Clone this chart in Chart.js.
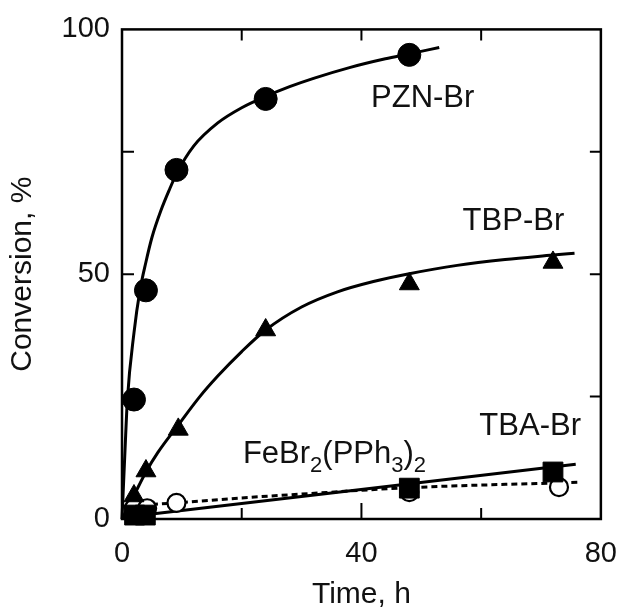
<!DOCTYPE html>
<html>
<head>
<meta charset="utf-8">
<script src="https://cdn.jsdelivr.net/npm/chart.js@4.4.0/dist/chart.umd.min.js"></script>
<style>
  body { margin: 0; background: #fff; }
  #wrap { width: 635px; height: 607px; }
</style>
</head>
<body>
<div id="wrap"><canvas id="conv" width="635" height="607"></canvas></div>
<script>
// measured points (time in h, conversion in %)
const pznTime = [2, 4, 9.1, 24, 48];
const pznConv = [24.4, 46.7, 71.3, 85.8, 94.8];
const tbpTime = [2, 4, 9.4, 24, 48, 72];
const tbpConv = [4.7, 9.8, 18.3, 38.6, 48, 52.4];
const tbaTime = [2.1, 3.9, 48, 72];
const tbaConv = [0.8, 0.8, 6.3, 9.6];
const feTime = [2, 4.2, 9.1, 48, 73];
const feConv = [2.2, 2.2, 3.3, 5.5, 6.5];

// fitted curves
const pznFitT = [0, 0.5, 0.9, 2, 3, 4, 5, 6.5, 8, 9.1, 12, 16, 20, 24, 28, 32, 38, 44, 48, 53];
const pznFitC = [0, 14, 24.4, 38, 46.7, 52.5, 57.5, 63, 67.5, 70.5, 76.2, 80.9, 84, 86.3, 88.3, 90, 92.2, 94, 95, 96.3];
const tbpFitT = [0, 2, 4, 6, 9.4, 13, 16, 20, 24, 30, 36, 42, 48, 56, 64, 72, 75.6];
const tbpFitC = [0, 4.8, 9.6, 13.6, 19.2, 25, 29.2, 34.2, 38.6, 43.3, 46.4, 48.5, 50.1, 51.8, 53, 53.9, 54.3];
const tbaFitT = [0, 75.8];
const tbaFitC = [0.3, 11.2];
const feFitT = [0, 9, 20, 30, 48, 76.4];
const feFitC = [2.6, 3.3, 4.3, 5.1, 6.4, 7.5];

const xTickMarks = [20, 40, 60];
const yTickMarks = [25, 50, 75];

const FONT = "'Liberation Sans', Arial, sans-serif";

const pts = (xs, ys) => xs.map((v, i) => ({x: v, y: ys[i]}));

function fitLine(xs, ys, dash) {
  return {
    data: pts(xs, ys),
    showLine: true,
    borderColor: '#000',
    borderWidth: 3,
    borderDash: dash || [],
    pointRadius: 0,
    cubicInterpolationMode: 'monotone',
    order: 10
  };
}

function marks(xs, ys, style, r, filled, order) {
  return {
    data: pts(xs, ys),
    showLine: false,
    pointStyle: style,
    pointRadius: r,
    pointHoverRadius: r,
    pointBackgroundColor: filled ? '#000' : '#fff',
    pointBorderColor: '#000',
    pointBorderWidth: filled ? 1 : 2.2,
    order: order
  };
}

// annotation labels: left edge and baseline in data units
const notes = [
  {parts: [['PZN-Br', 0]], x: 41.6, y: 84.1},
  {parts: [['TBP-Br', 0]], x: 56.9, y: 59.1},
  {parts: [['TBA-Br', 0]], x: 59.7, y: 17.1},
  {parts: [['FeBr', 0], ['2', 1], ['(PPh', 0], ['3', 1], [')', 0], ['2', 1]], x: 20.2, y: 11.4}
];

const boxPlugin = {
  id: 'box',
  beforeDatasetsDraw(chart) {
    const {ctx, chartArea: a, scales} = chart;
    ctx.save();
    ctx.strokeStyle = '#000';
    ctx.lineWidth = 2;
    xTickMarks.forEach(v => {
      const px = scales.x.getPixelForValue(v);
      const len = v === 40 ? 16 : 11;
      ctx.beginPath();
      ctx.moveTo(px, a.bottom); ctx.lineTo(px, a.bottom - len);
      ctx.moveTo(px, a.top); ctx.lineTo(px, a.top + 11);
      ctx.stroke();
    });
    yTickMarks.forEach(v => {
      const py = scales.y.getPixelForValue(v);
      ctx.beginPath();
      ctx.moveTo(a.left, py); ctx.lineTo(a.left + 12, py);
      ctx.moveTo(a.right, py); ctx.lineTo(a.right - 11, py);
      ctx.stroke();
    });
    ctx.lineWidth = 2.5;
    ctx.strokeRect(a.left, a.top, a.right - a.left, a.bottom - a.top);
    ctx.restore();
  },
  afterDatasetsDraw(chart) {
    const {ctx, scales} = chart;
    ctx.save();
    ctx.fillStyle = '#111';
    ctx.textBaseline = 'alphabetic';
    ctx.textAlign = 'left';
    notes.forEach(n => {
      let px = scales.x.getPixelForValue(n.x);
      const py = scales.y.getPixelForValue(n.y);
      n.parts.forEach(([t, sub]) => {
        ctx.font = (sub ? '22px ' : '31px ') + FONT;
        ctx.fillText(t, px, sub ? py + 9 : py);
        px += ctx.measureText(t).width;
      });
    });
    ctx.restore();
  }
};

new Chart(document.getElementById('conv'), {
  type: 'scatter',
  data: {
    datasets: [
      fitLine(pznFitT, pznFitC),
      fitLine(tbpFitT, tbpFitC),
      fitLine(tbaFitT, tbaFitC),
      fitLine(feFitT, feFitC, [6, 4]),
      marks(tbaTime, tbaConv, 'rect', 14, true, 0),
      marks(pznTime, pznConv, 'circle', 11.5, true, 1),
      marks(tbpTime, tbpConv, 'triangle', 11.5, true, 1),
      marks(feTime, feConv, 'circle', 9, false, 2)
    ]
  },
  options: {
    responsive: false,
    animation: false,
    clip: false,
    layout: {padding: {left: 0, top: 27, right: 22, bottom: 0}},
    plugins: {legend: {display: false}, tooltip: {enabled: false}},
    scales: {
      x: {
        type: 'linear', min: 0, max: 80,
        grid: {display: false, drawTicks: false},
        border: {display: false},
        ticks: {stepSize: 40, padding: 18, color: '#111', font: {family: FONT, size: 29}},
        title: {display: true, text: 'Time, h', color: '#111', padding: {top: 0, bottom: 0},
                font: {family: FONT, size: 30, lineHeight: 0.83}},
        afterFit: (s) => { s.height = 88; }
      },
      y: {
        type: 'linear', min: 0, max: 100,
        grid: {display: false, drawTicks: false},
        border: {display: false},
        ticks: {stepSize: 50, padding: 12, color: '#111', font: {family: FONT, size: 29}},
        title: {display: true, text: 'Conversion, %', color: '#111', padding: {top: 5, bottom: 0},
                font: {family: FONT, size: 30, lineHeight: 1.2}},
        afterFit: (s) => { s.width = 122; }
      }
    }
  },
  plugins: [boxPlugin]
});
</script>
</body>
</html>
